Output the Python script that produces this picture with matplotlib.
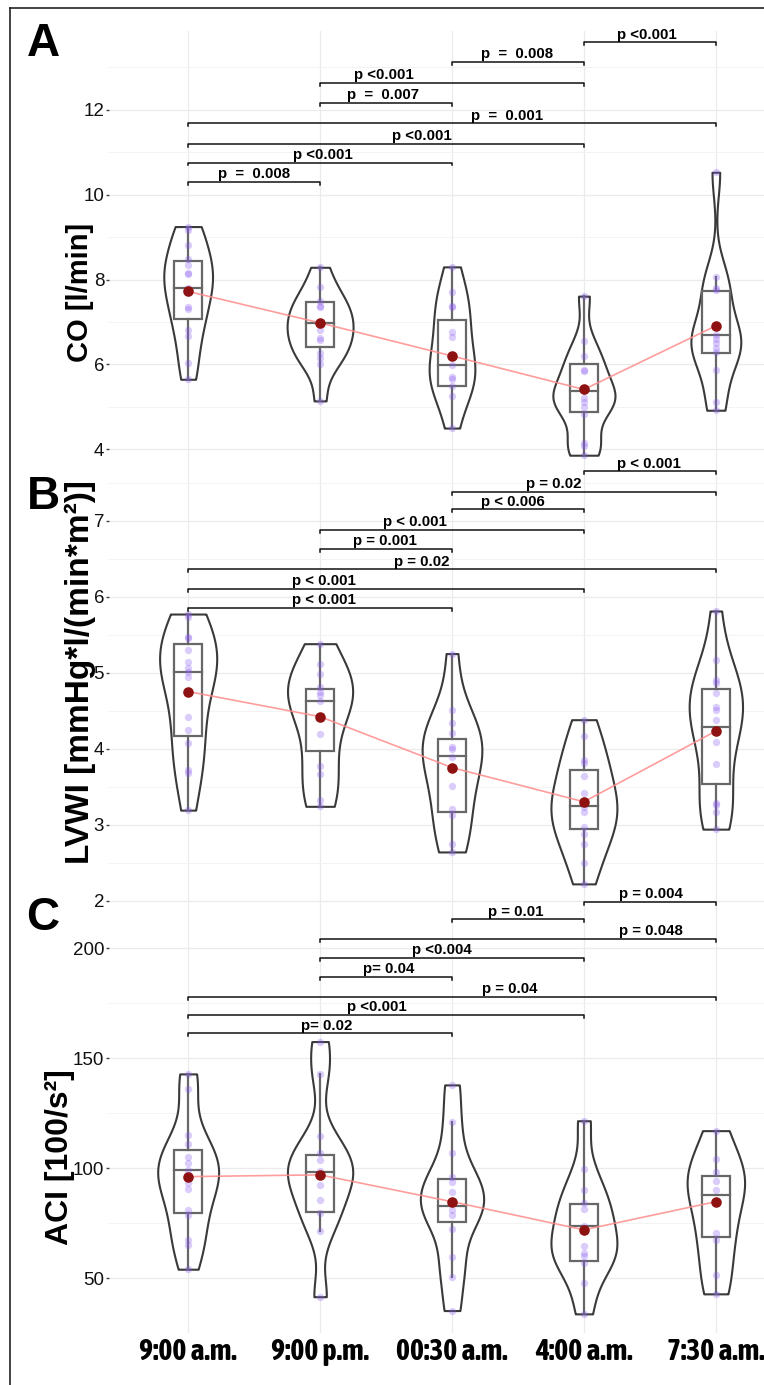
import numpy as np
import matplotlib
matplotlib.use("Agg")
import matplotlib.pyplot as plt
from matplotlib import font_manager
from matplotlib.lines import Line2D
from matplotlib.patches import Rectangle
from matplotlib.ticker import MultipleLocator

# =========================================================
# DATOS
# =========================================================

grupos = ["9:00 a.m.", "9:00 p.m.", "00:30 a.m.", "4:00 a.m.", "7:30 a.m."]

# Panel A - CO [l/min]
co_puntos = [
    [9.25, 9.17, 8.82, 8.49, 8.34, 8.15, 8.13, 7.8, 7.7, 7.35, 7.3, 6.81, 6.66, 6.04, 5.65],
    [8.29, 7.83, 7.5, 7.38, 7.35, 7.0, 6.98, 6.8, 6.62, 6.58, 6.26, 6.14, 6.01, 5.14],
    [8.30, 7.70, 7.38, 7.35, 6.77, 6.65, 6.2, 5.99, 5.71, 5.65, 5.5, 5.25, 4.5],
    [7.61, 6.55, 6.20, 5.88, 5.85, 5.4, 5.37, 5.20, 5.12, 5.00, 4.83, 4.15, 4.08, 3.86],
    [10.53, 8.07, 7.81, 7.75, 6.91, 6.69, 6.6, 6.51, 6.38, 6.3, 5.87, 5.12, 4.92],
]
co_q1 = [7.08, 6.42, 5.49, 4.87, 6.26]
co_med = [7.81, 6.98, 5.99, 5.37, 6.69]
co_q3 = [8.44, 7.48, 7.05, 6.00, 7.73]
co_media = [7.72, 6.98, 6.20, 5.41, 6.91]

# Panel B - LVWI
lv_puntos = [
    [5.77, 5.73, 5.47, 5.45, 5.30, 5.14, 5.06, 5.01, 4.94, 4.75, 4.41, 4.24, 4.07, 3.72, 3.68, 3.19],
    [5.38, 5.11, 4.98, 4.81, 4.75, 4.70, 4.62, 4.42, 4.19, 3.77, 3.67, 3.32, 3.24],
    [5.25, 4.51, 4.33, 4.21, 4.02, 4.00, 3.89, 3.75, 3.51, 3.21, 3.12, 2.75, 2.64],
    [4.38, 4.16, 3.85, 3.81, 3.64, 3.41, 3.30, 3.23, 3.17, 2.97, 2.88, 2.75, 2.50, 2.22],
    [5.81, 5.16, 4.90, 4.86, 4.73, 4.55, 4.51, 4.38, 4.23, 4.09, 3.80, 3.29, 3.26, 3.17, 2.94],
]
lv_q1 = [4.16, 3.97, 3.17, 2.94, 3.54]
lv_med = [5.01, 4.625, 3.90, 3.24, 4.29]
lv_q3 = [5.375, 4.79, 4.12, 3.72, 4.79]
lv_media = [4.75, 4.42, 3.75, 3.30, 4.23]

# Panel C - ACI
aci_puntos = [
    [142.9, 135.9, 115.1, 110.9, 105.3, 102.3, 99.2, 96.2, 93.2, 90.5, 81.0, 78.8, 67.4, 65.1, 54.1],
    [157.6, 142.9, 114.7, 106.8, 103.8, 98.9, 97.0, 92.4, 85.6, 79.5, 71.6, 41.6],
    [137.9, 121.2, 107.1, 96.2, 93.9, 89.4, 84.8, 81.0, 78.8, 72.3, 59.8, 50.5, 35.3],
    [121.6, 99.5, 90.1, 84.1, 81.4, 73.8, 72.0, 64.7, 61.6, 60.1, 56.8, 47.7, 33.8],
    [117.1, 104.4, 98.5, 94.4, 90.1, 84.8, 70.5, 67.4, 51.5, 42.9],
]
aci_q1 = [79.5, 80.3, 75.5, 58.0, 68.9]
aci_med = [99.2, 98.5, 82.9, 73.8, 87.7]
aci_q3 = [108.3, 106.0, 95.3, 83.6, 96.5]
aci_media = [96.2, 97.0, 84.8, 72.0, 84.8]

# Comparaciones (grupo i, grupo j), altura, texto, posición x del texto
pares_A = [(1, 2), (1, 3), (1, 4), (1, 5), (2, 3), (2, 4), (3, 4), (4, 5)]
alt_A = [10.31, 10.76, 11.20, 11.69, 12.17, 12.64, 13.14, 13.59]
txt_A = ["p  =  0.008", "p <0.001", "p <0.001", "p  =  0.001",
         "p  =  0.007", "p <0.001", "p  =  0.008", "p <0.001"]
tx_A = [1.50, 2.02, 2.77, 3.42, 2.48, 2.48, 3.49, 4.48]

pares_B = [(1, 3), (1, 4), (1, 5), (2, 3), (2, 4), (3, 4), (3, 5), (4, 5)]
alt_B = [5.85, 6.10, 6.36, 6.63, 6.88, 7.15, 7.38, 7.65]
txt_B = ["p < 0.001", "p < 0.001", "p = 0.02", "p = 0.001",
         "p < 0.001", "p < 0.006", "p = 0.02", "p < 0.001"]
tx_B = [2.03, 2.03, 2.77, 2.49, 2.72, 3.46, 3.77, 4.49]

pares_C = [(1, 3), (1, 4), (1, 5), (2, 3), (2, 4), (2, 5), (3, 4), (4, 5)]
alt_C = [161.4, 169.7, 178.0, 187.1, 195.7, 204.4, 213.2, 221.2]
txt_C = ["p= 0.02", "p <0.001", "p = 0.04", "p= 0.04",
         "p <0.004", "p = 0.048", "p = 0.01", "p = 0.004"]
tx_C = [2.05, 2.43, 3.44, 2.52, 2.92, 4.51, 3.48, 4.51]

# =========================================================
# ESTILO
# =========================================================

W, H = 764, 1385


def peso(f):
    w = f.weight
    if isinstance(w, str):
        w = font_manager.weight_dict.get(w, 400)
    return w


# fuente estrecha con negrita para las etiquetas del eje x, si hay alguna
estrechas = sorted({f.name for f in font_manager.fontManager.ttflist
                    if ("Narrow" in f.name or "Condensed" in f.name) and peso(f) >= 600})
if "Liberation Sans Narrow" in estrechas:
    estrechas = ["Liberation Sans Narrow"]
NARROW = estrechas[:1] + ["Liberation Sans", "DejaVu Sans"]
TAM_X = 21.5 if estrechas else 18.5
SANS = ["Liberation Sans", "DejaVu Sans"]

COL_VIOLIN = "#3a3a3a"
COL_BOX = "#676767"
COL_PUNTO = "#8a5cf5"
COL_MEDIA = "#8e1212"
COL_LINEA = "#ff8c8c"
COL_GRID = "#ebebeb"


def kde(v):
    # densidad gaussiana, ancho de banda nrd0, recortada al rango
    v = np.asarray(v, dtype=float)
    n = len(v)
    sd = v.std(ddof=1)
    iqr = np.percentile(v, 75) - np.percentile(v, 25)
    bw = 0.9 * min(sd, iqr / 1.34) * n ** -0.2
    y = np.linspace(v.min(), v.max(), 512)
    d = np.exp(-0.5 * ((y[:, None] - v[None, :]) / bw) ** 2).sum(1)
    d = d / (n * bw * np.sqrt(2 * np.pi))
    return y, d


def panel(ax, puntos, q1, med, q3, media, pares, alt, txt, tx, ylim, mayor, menor, tick_len):
    ax.set_xlim(0.4, 5.6)
    ax.set_ylim(*ylim)
    ax.set_facecolor("none")
    for s in ax.spines.values():
        s.set_visible(False)

    ax.yaxis.set_major_locator(MultipleLocator(mayor))
    ax.yaxis.set_minor_locator(MultipleLocator(menor))
    ax.set_xticks(range(1, 6))
    ax.grid(True, which="major", color=COL_GRID, lw=0.9, zorder=0)
    ax.grid(True, which="minor", axis="y", color="#f3f3f3", lw=0.7, zorder=0)
    ax.tick_params(axis="y", which="major", length=2.5, width=1, color="#444444",
                   pad=1, labelsize=13.5, labelcolor="#111111")
    ax.tick_params(axis="y", which="minor", length=0)
    ax.tick_params(axis="x", length=0)
    for lab in ax.get_yticklabels():
        lab.set_family(SANS)

    dens = [kde(p) for p in puntos]
    dmax = max(d.max() for _, d in dens)

    for i, (y, d) in enumerate(dens):
        x = i + 1
        w = d / dmax * 0.25
        ax.fill_betweenx(y, x - w, x + w, facecolor="white", edgecolor=COL_VIOLIN,
                         lw=1.5, zorder=2)

        p = np.asarray(puntos[i])
        iqr = q3[i] - q1[i]
        sup = p[p <= q3[i] + 1.5 * iqr].max()
        inf = p[p >= q1[i] - 1.5 * iqr].min()
        ax.plot([x, x], [q3[i], sup], color=COL_BOX, lw=1.6, zorder=3)
        ax.plot([x, x], [inf, q1[i]], color=COL_BOX, lw=1.6, zorder=3)
        ax.add_patch(Rectangle((x - 0.105, q1[i]), 0.21, q3[i] - q1[i], facecolor="none",
                               edgecolor=COL_BOX, lw=1.6, zorder=3))
        ax.plot([x - 0.105, x + 0.105], [med[i], med[i]], color=COL_BOX, lw=1.6, zorder=3)

        ax.scatter(np.full(len(p), x), p, s=28, color=COL_PUNTO, alpha=0.3, lw=0, zorder=4)

    ax.plot(range(1, 6), media, color=COL_LINEA, lw=1.2, alpha=0.85, zorder=5)
    ax.scatter(range(1, 6), media, s=58, color=COL_MEDIA, lw=0, zorder=6)

    # corchetes de significancia
    for (a, b), yy, t, xt in zip(pares, alt, txt, tx):
        ax.plot([a, a, b, b], [yy - tick_len, yy, yy, yy - tick_len], color="#111111",
                lw=1.1, clip_on=False, zorder=7)
        ax.annotate(t, (xt, yy), xytext=(0, 2.5), textcoords="offset points",
                    ha="center", va="baseline", fontsize=10.8, fontweight="bold",
                    family=SANS, annotation_clip=False, zorder=8)


fig = plt.figure(figsize=(W / 100, H / 100), dpi=100)

izq = 109 / W
ancho = 686 / W


def caja(top, bottom):
    return [izq, 1 - bottom / H, ancho, (bottom - top) / H]


axA = fig.add_axes(caja(31, 462))
axB = fig.add_axes(caja(462, 912))
axC = fig.add_axes(caja(912, 1333))

panel(axA, co_puntos, co_q1, co_med, co_q3, co_media, pares_A, alt_A, txt_A, tx_A,
      (3.70, 13.86), 2, 1, 0.07)
panel(axB, lv_puntos, lv_q1, lv_med, lv_q3, lv_media, pares_B, alt_B, txt_B, tx_B,
      (1.85, 7.77), 1, 0.5, 0.04)
panel(axC, aci_puntos, aci_q1, aci_med, aci_q3, aci_media, pares_C, alt_C, txt_C, tx_C,
      (25.1, 216.5), 50, 25, 1.4)

for ax in (axA, axB):
    ax.set_xticklabels([])
axC.set_xticklabels(grupos, fontsize=TAM_X, fontweight="bold", family=NARROW)
axC.tick_params(axis="x", pad=3)

# etiquetas de eje y letras de panel
fig.text(80 / W, 1 - 292 / H, "CO [l/min]", rotation=90, ha="center", va="center",
         fontsize=21, fontweight="bold", family=SANS)
fig.text(80 / W, 1 - 672 / H, "LVWI [mmHg*l/(min*m²)]", rotation=90, ha="center",
         va="center", fontsize=24, fontweight="bold", family=SANS)
fig.text(60 / W, 1 - 1157 / H, "ACI [100/s²]", rotation=90, ha="center", va="center",
         fontsize=23, fontweight="bold", family=SANS)

for letra, yc in zip(["A", "B", "C"], [44, 497, 918]):
    fig.text(43 / W, 1 - yc / H, letra, ha="center", va="center", fontsize=33,
             fontweight="bold", family=SANS)

# marco
fig.add_artist(Line2D([10 / W, 10 / W], [0, 1 - 8 / H], transform=fig.transFigure,
                      color="#222222", lw=1.2))
fig.add_artist(Line2D([10 / W, 1], [1 - 8 / H, 1 - 8 / H], transform=fig.transFigure,
                      color="#222222", lw=1.2))

fig.savefig("out.png", dpi=100)
